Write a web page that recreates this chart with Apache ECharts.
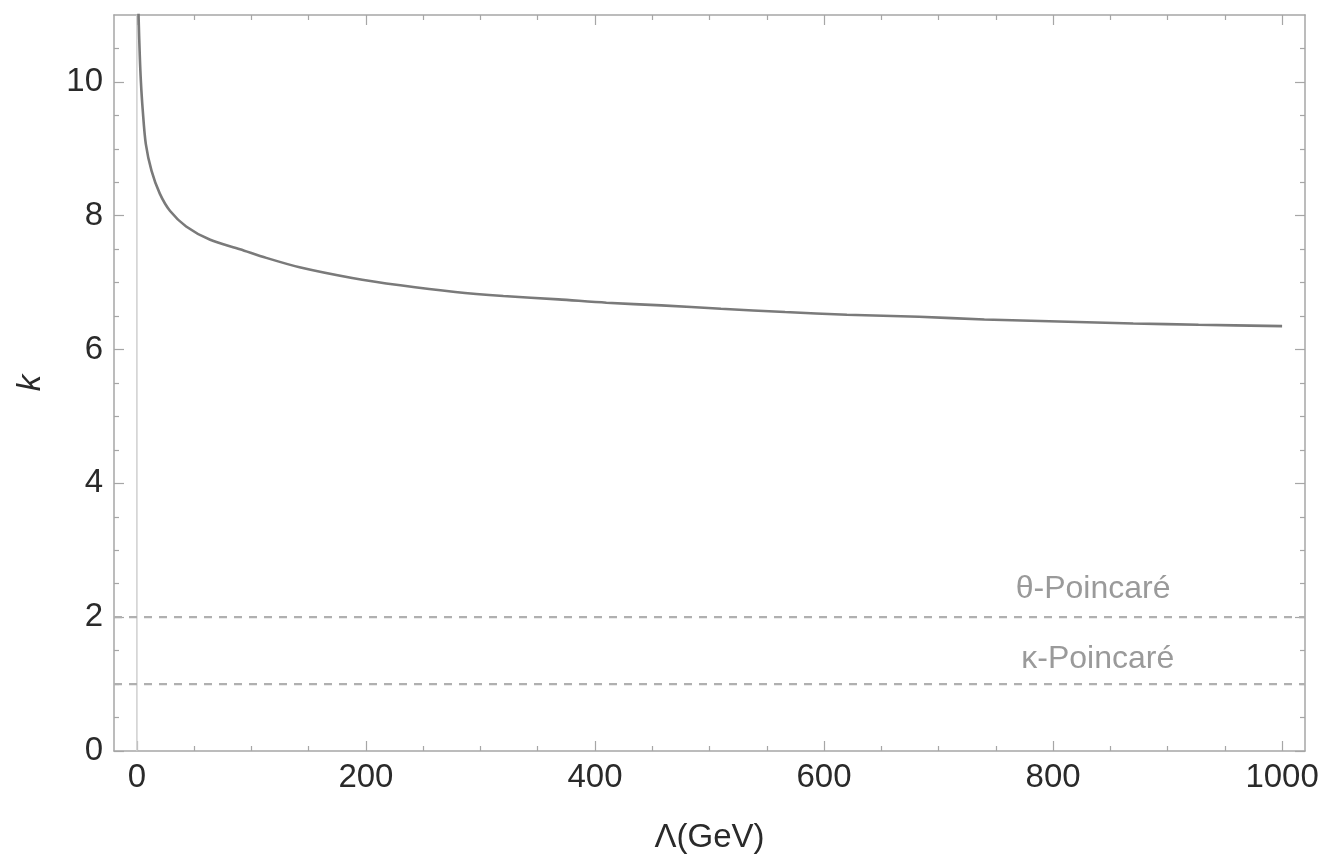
<!DOCTYPE html>
<html>
<head>
<meta charset="utf-8">
<title>k vs Λ</title>
<script src="https://cdn.jsdelivr.net/npm/echarts@6/dist/echarts.min.js"></script>
<style>
  html, body { margin: 0; padding: 0; background: #fff; }
  #chart { width: 1326px; height: 855px; }
</style>
</head>
<body>
<div id="chart"></div>
<script>
// Scale Λ (GeV) and the resulting k
const lambdaGeV = [0.5, 1.0, 1.5, 2.5, 3.5, 5, 7.8, 12.8, 20, 29, 43, 64, 90, 113, 142, 188, 230, 278, 320, 368, 410, 458, 510, 566, 620, 683, 740, 805, 870, 927, 1000];
const kValues   = [12.2, 11.4, 10.95, 10.4, 10.0, 9.6, 9.07, 8.67, 8.33, 8.07, 7.84, 7.64, 7.5, 7.37, 7.23, 7.07, 6.96, 6.86, 6.8, 6.75, 6.7, 6.66, 6.61, 6.56, 6.52, 6.49, 6.45, 6.42, 6.39, 6.37, 6.35];

// Reference levels
const refNames  = ['θ-Poincaré', 'κ-Poincaré'];
const refValues = [2, 1];

// Frame ticks
const xMajorTicks = [0, 200, 400, 600, 800, 1000];
const xMinorTicks = [50, 100, 150, 250, 300, 350, 450, 500, 550, 650, 700, 750, 850, 900, 950];
const yMajorTicks = [0, 2, 4, 6, 8, 10];
const yMinorTicks = [0.5, 1, 1.5, 2.5, 3, 3.5, 4.5, 5, 5.5, 6.5, 7, 7.5, 8.5, 9, 9.5, 10.5];

const X_MIN = -20, X_MAX = 1020, Y_MIN = 0, Y_MAX = 11;
const FONT = 'Liberation Sans';
const frameColor = '#a6a6a6';

const gridBox = { left: 114, right: 21, top: 15, bottom: 104, containLabel: false, outerBoundsMode: 'none' };

function xAxisDef(gridIndex, position, ticks, len, withLine, withLabels) {
  return {
    type: 'value', gridIndex, position, min: X_MIN, max: X_MAX,
    axisLine: { show: withLine, onZero: false, lineStyle: { color: frameColor, width: 1.5 } },
    axisTick: { show: true, inside: true, length: len, customValues: ticks, lineStyle: { color: frameColor, width: 1.2 } },
    axisLabel: withLabels
      ? { show: true, customValues: ticks, formatter: v => String(v), margin: 10, color: '#2a2a2a', fontFamily: FONT, fontSize: 33 }
      : { show: false },
    splitLine: { show: false }
  };
}
function yAxisDef(gridIndex, position, ticks, len, withLine, withLabels) {
  return {
    type: 'value', gridIndex, position, min: Y_MIN, max: Y_MAX,
    axisLine: { show: withLine, onZero: false, lineStyle: { color: frameColor, width: 1.5 } },
    axisTick: { show: true, inside: true, length: len, customValues: ticks, lineStyle: { color: frameColor, width: 1.2 } },
    axisLabel: withLabels
      ? { show: true, customValues: ticks, formatter: v => String(v), margin: 11, color: '#2a2a2a', fontFamily: FONT, fontSize: 33 }
      : { show: false },
    splitLine: { show: false }
  };
}

const curve = lambdaGeV.map((x, i) => [x, kValues[i]]);

const xAxes = [
  xAxisDef(0, 'bottom', xMajorTicks, 10, true, true),
  xAxisDef(0, 'top', xMajorTicks, 10, true, false),
  xAxisDef(1, 'bottom', xMinorTicks, 5, false, false),
  xAxisDef(1, 'top', xMinorTicks, 5, false, false)
];
Object.assign(xAxes[0], {
  name: 'Λ(GeV)', nameLocation: 'middle', nameGap: 70,
  nameTextStyle: { fontFamily: FONT, fontSize: 33, color: '#2a2a2a' }
});

const yAxes = [
  yAxisDef(0, 'left', yMajorTicks, 10, true, true),
  yAxisDef(0, 'right', yMajorTicks, 10, true, false),
  yAxisDef(1, 'left', yMinorTicks, 5, false, false),
  yAxisDef(1, 'right', yMinorTicks, 5, false, false)
];
Object.assign(yAxes[0], {
  name: 'k', nameLocation: 'middle', nameGap: 67, nameRotate: 90,
  nameTextStyle: { fontFamily: FONT, fontSize: 33, fontStyle: 'italic', color: '#2a2a2a' }
});

const refSeries = refValues.map((v, i) => ({
  type: 'line', xAxisIndex: 0, yAxisIndex: 0, silent: true,
  symbol: 'none', z: 2,
  data: [[X_MIN, v], [X_MAX, v]],
  lineStyle: { color: '#b0b0b0', width: 2.2, type: [8, 7] },
  markPoint: {
    symbol: 'circle', symbolSize: 0,
    data: [{ coord: [i === 0 ? 835 : 839, v + (i === 0 ? 0.42 : 0.37)], value: refNames[i] }],
    label: {
      show: true, position: 'inside', formatter: refNames[i],
      fontFamily: FONT, fontSize: 32, color: '#9a9a9a'
    }
  }
}));

const chart = echarts.init(document.getElementById('chart'), null, { renderer: 'canvas' });
chart.setOption({
  backgroundColor: '#ffffff',
  animation: false,
  grid: [gridBox, gridBox],
  xAxis: xAxes,
  yAxis: yAxes,
  series: [
    {
      // vertical axis line at Λ = 0
      type: 'line', xAxisIndex: 0, yAxisIndex: 0, silent: true, symbol: 'none', z: 1,
      data: [[0, Y_MIN], [0, Y_MAX]],
      lineStyle: { color: '#cfcfcf', width: 1.5 }
    },
    ...refSeries,
    {
      type: 'line', name: 'k', xAxisIndex: 0, yAxisIndex: 0,
      data: curve, symbol: 'none', smooth: 0.3, clip: true, z: 3,
      lineStyle: { color: '#7a7a7a', width: 2.6 }
    }
  ]
});
</script>
</body>
</html>
